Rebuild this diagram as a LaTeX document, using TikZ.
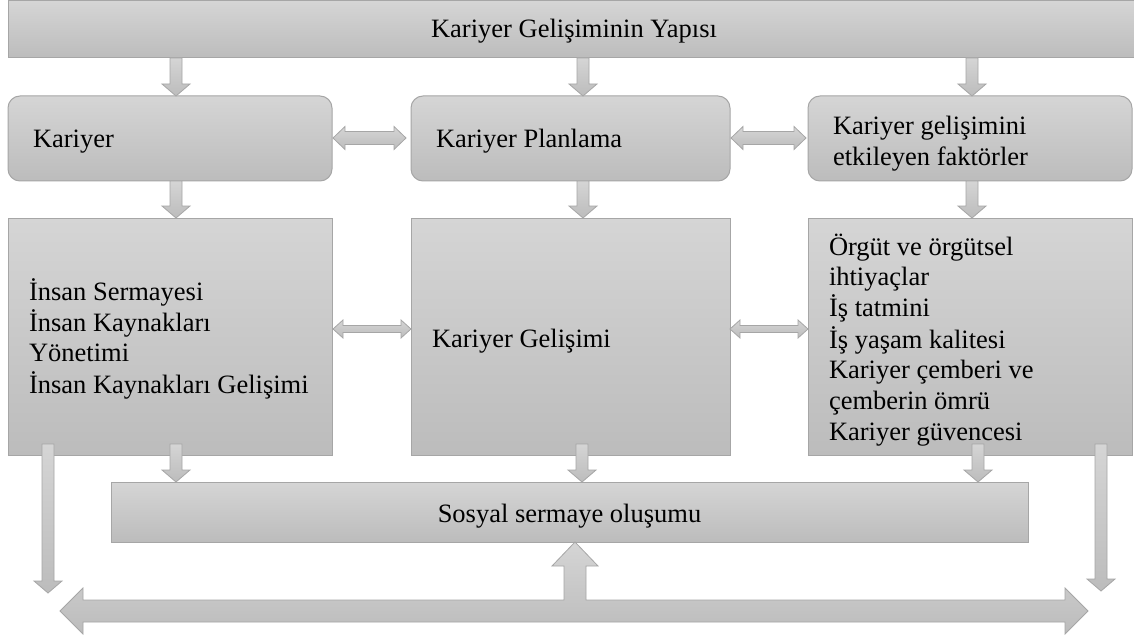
\documentclass[tikz,border=0pt]{standalone}
\usepackage{fontspec}
\setmainfont{Liberation Serif}
\definecolor{gtop}{HTML}{D5D5D5}
\definecolor{gbot}{HTML}{BCBCBC}
\definecolor{gline}{HTML}{A6A6A6}
\tikzset{
  blk/.style={draw=gline, line width=1pt, top color=gtop, bottom color=gbot, inner sep=0pt, outer sep=0pt, anchor=north west},
  rblk/.style={blk, rounded corners=12pt},
  txt/.style={inner sep=0pt, outer sep=0pt, font=\fontsize{26.5}{30.8}\selectfont, text=black},
  barrow/.style={draw=gline, line width=0.8pt, top color=gtop, bottom color=gbot},
}
% vertical block arrow: x, y start, y tip
\newcommand\DownArr[3]{\path[barrow] (#1-6,#2) -- (#1+6,#2) -- (#1+6,#3-12) -- (#1+14,#3-12) -- (#1,#3) -- (#1-14,#3-12) -- (#1-6,#3-12) -- cycle;}
% horizontal double block arrow: x1, x2, y, shaft half, head half, head length
\newcommand\HDbl[6]{\path[barrow] (#1,#3) -- (#1+#6,#3-#5) -- (#1+#6,#3-#4) -- (#2-#6,#3-#4) -- (#2-#6,#3-#5) -- (#2,#3) -- (#2-#6,#3+#5) -- (#2-#6,#3+#4) -- (#1+#6,#3+#4) -- (#1+#6,#3+#5) -- cycle;}
\begin{document}
\begin{tikzpicture}[x=1pt,y=-1pt]
\useasboundingbox (0,0) rectangle (1134,639);
\fill[white] (0,0) rectangle (1134,639);

% boxes
\node[blk, minimum width=1132pt, minimum height=57pt] (top) at (8,1) {};
\node[rblk, minimum width=324pt, minimum height=85pt] (kar) at (8,96) {};
\node[rblk, minimum width=319pt, minimum height=85pt] (plan) at (411,96) {};
\node[rblk, minimum width=324pt, minimum height=85pt] (fakt) at (808,96) {};
\node[blk, minimum width=324pt, minimum height=237pt] (ins) at (8,218) {};
\node[blk, minimum width=319pt, minimum height=237pt] (gel) at (411,218) {};
\node[blk, minimum width=324pt, minimum height=237pt] (org) at (808,218) {};
\node[blk, minimum width=917pt, minimum height=60pt] (sos) at (111,482) {};

% texts
\node[txt, anchor=base] (topT) at (574,38) {Kariyer Gelişiminin Yapısı};
\node[txt, anchor=base west] (karT) at (33,148) {Kariyer};
\node[txt, anchor=base west] (planT) at (436,148) {Kariyer Planlama};
\node[txt, anchor=base west] (faktT) at (833,135) {\begin{tabular}[t]{@{}l@{}}Kariyer gelişimini\\ etkileyen faktörler\end{tabular}};
\node[txt, anchor=base west] (insT) at (29,300) {\begin{tabular}[t]{@{}l@{}}İnsan Sermayesi\\ İnsan Kaynakları\\ Yönetimi\\ İnsan Kaynakları Gelişimi\end{tabular}};
\node[txt, anchor=base west] (gelT) at (432,347) {Kariyer Gelişimi};
\node[txt, anchor=base west] (orgT) at (829,255) {\begin{tabular}[t]{@{}l@{}}Örgüt ve örgütsel\\ ihtiyaçlar\\ İş tatmini\\ İş yaşam kalitesi\\ Kariyer çemberi ve\\ çemberin ömrü\\ Kariyer güvencesi\end{tabular}};
\node[txt, anchor=base] (sosT) at (569.5,522) {Sosyal sermaye oluşumu};

% arrows from top bar
\DownArr{176}{58}{96}
\DownArr{583}{58}{96}
\DownArr{972}{58}{96}
% arrows from first row
\DownArr{176}{181}{218}
\DownArr{583}{181}{218}
\DownArr{972}{181}{218}
% horizontal double arrows
\HDbl{333}{406}{138}{6.5}{11.5}{12}
\HDbl{731}{806}{138}{6.5}{11.5}{12}
\HDbl{333}{411}{329}{3.5}{9}{10}
\HDbl{730}{808}{329}{3.5}{9}{10}
% arrows into social capital
\DownArr{176}{444}{482}
\DownArr{582}{444}{482}
\DownArr{978}{444}{482}
% long side arrows
\DownArr{48}{444}{593}
\DownArr{1101}{444}{591}
% bottom double arrow with up arrow
\path[barrow] (60,611) -- (83,588) -- (83,600) -- (564,600) -- (564,566) -- (552,566) -- (575,542) -- (598,566) -- (586,566) -- (586,600) -- (1065,600) -- (1065,588) -- (1088,611) -- (1065,634) -- (1065,622) -- (83,622) -- (83,634) -- cycle;
\end{tikzpicture}
\end{document}
